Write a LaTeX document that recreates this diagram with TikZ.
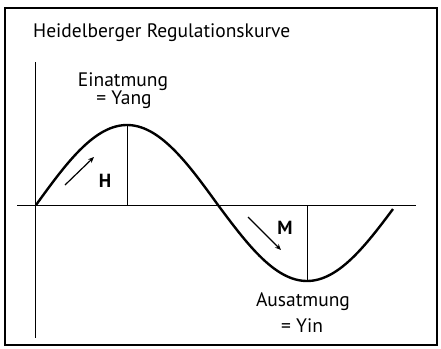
\documentclass[tikz,border=0pt]{standalone}
\usepackage{fontspec}
\setmainfont{PT Sans}
\usetikzlibrary{arrows.meta}
\begin{document}
\begin{tikzpicture}[x=1pt,y=-1pt,
  lbl/.style={inner sep=0pt,font=\fontsize{19.5}{22}\selectfont,align=center},
  bigletter/.style={inner sep=0pt,font=\fontsize{19}{22}\selectfont\bfseries},
  thin line/.style={line width=1pt,black},
  curve/.style={line width=2.4pt,black,line join=round},
  dirarrow/.style={line width=1.2pt,-{Stealth[length=6pt,width=5pt]}}]
\useasboundingbox (0,0) rectangle (441,348);
\draw[line width=2pt] (5,8) rectangle (437,345);
\node[lbl,anchor=base west] (title) at (33,37) {Heidelberger Regulationskurve};
% axes
\coordinate (ytop) at (35,62);
\coordinate (ybot) at (35,338);
\coordinate (xl) at (17,205);
\coordinate (xr) at (416,205);
\draw[thin line] (ytop) -- (ybot);
\draw[thin line] (xl) -- (xr);
% curve
\coordinate (peak) at (127,125);
\coordinate (peakbase) at (127,205);
\coordinate (trough) at (307,281);
\coordinate (troughbase) at (307,205);
\draw[curve] plot[domain=36:218,samples=60,smooth] (\x,{205-80*sin((\x-36)/182*180)})
  -- plot[domain=218:393,samples=60,smooth] (\x,{205+76*sin((\x-218)/178*180)});
\draw[thin line] (peak) -- (peakbase);
\draw[thin line] (trough) -- (troughbase);
% arrows
\coordinate (h1) at (65,185);
\coordinate (h2) at (94,157);
\coordinate (m1) at (248,217);
\coordinate (m2) at (281,250);
\draw[dirarrow] (h1) -- (h2);
\draw[dirarrow] (m1) -- (m2);
\node[bigletter] (H) at (105,181) {H};
\node[bigletter] (M) at (285,228) {M};
\node[lbl,anchor=center] (ein) at (123,82) {Einatmung};
\node[lbl,anchor=center] (yang) at (124,100) {= Yang};
\node[lbl,anchor=center] (aus) at (303,302) {Ausatmung};
\node[lbl,anchor=center] (yin) at (302,326) {= Yin};
\end{tikzpicture}
\end{document}
